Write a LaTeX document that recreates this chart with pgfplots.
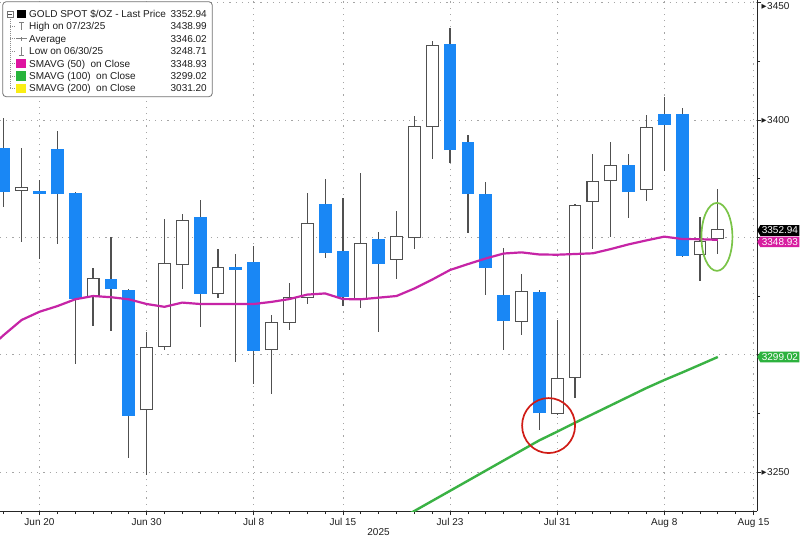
\documentclass[border=0pt]{standalone}
\usepackage{pgfplots}
\pgfplotsset{compat=1.18}
\usepackage{pgfplotstable}
\usetikzlibrary{shapes.symbols}
\usepackage{fontspec}
\setmainfont{Liberation Sans}
\newfontfamily\djv{DejaVu Sans}

\definecolor{bblue}{RGB}{25,135,245}
\definecolor{wick}{RGB}{80,80,80}
\definecolor{ma50}{RGB}{198,36,166}
\definecolor{ma100}{RGB}{58,178,68}
\definecolor{sqmag}{RGB}{222,20,160}
\definecolor{sqgreen}{RGB}{40,180,60}
\definecolor{sqyellow}{RGB}{250,238,20}
\definecolor{tagmag}{RGB}{215,30,160}
\definecolor{taggreen}{RGB}{45,178,62}
\definecolor{gridc}{RGB}{165,165,165}
\definecolor{circred}{RGB}{208,28,22}
\definecolor{circgreen}{RGB}{122,196,72}
\definecolor{txt}{RGB}{30,30,30}

\newcommand{\tri}{\raisebox{0.7pt}{\djv\fontsize{6.5}{6.5}\selectfont ▶}\kern0.5pt}

% down (close < open) candles
\pgfplotstableread{
i o h l c
0 3388.2 3400.9 3362.9 3369.4
2 3369.7 3374.4 3340.6 3368.5
3 3387.8 3395.3 3347.2 3368.3
4 3369.0 3369.5 3295.9 3323.6
6 3332.1 3350.3 3310.2 3327.8
7 3327.6 3328.0 3255.9 3274.0
11 3358.8 3365.9 3311.9 3325.9
13 3337.3 3342.8 3296.8 3336.2
14 3339.6 3346.3 3287.4 3301.7
18 3364.1 3375.0 3341.3 3343.2
19 3344.3 3366.6 3320.7 3324.7
21 3349.3 3352.4 3309.8 3338.6
25 3432.4 3438.99 3381.8 3387.2
26 3390.5 3393.6 3351.7 3368.5
27 3368.3 3373.7 3325.4 3336.8
28 3325.4 3345.3 3302.0 3314.2
30 3326.8 3327.5 3267.9 3275.0
35 3381.0 3385.4 3358.4 3369.3
37 3402.4 3409.7 3378.3 3397.7
38 3402.4 3405.0 3341.8 3342.2
}\dncandles

% up (close >= open) candles
\pgfplotstableread{
i o h l c
1 3370.3 3387.9 3347.9 3370.9
5 3325.0 3337.1 3312.2 3332.1
8 3276.7 3309.5 3248.71 3302.7
9 3303.7 3357.8 3302.0 3338.6
10 3338.6 3359.8 3327.9 3357.1
12 3326.2 3344.9 3324.1 3337.1
15 3302.4 3316.9 3283.1 3313.4
16 3314.1 3330.4 3310.5 3324.0
17 3324.7 3368.8 3321.6 3355.6
20 3324.0 3377.3 3319.8 3347.0
22 3340.9 3361.2 3332.1 3350.0
23 3350.0 3401.7 3345.2 3396.9
24 3397.4 3433.8 3383.4 3431.5
29 3314.5 3334.3 3308.4 3326.6
31 3275.0 3314.8 3274.5 3289.6
32 3290.6 3364.0 3281.7 3363.5
33 3365.6 3385.4 3345.2 3373.7
34 3374.3 3390.5 3350.3 3380.5
36 3370.6 3402.1 3365.6 3396.5
39 3342.8 3358.8 3331.4 3348.1
40 3349.6 3370.6 3342.9 3352.94
}\upcandles

\pgfplotstableread{
i v
-1 3301.5
0 3308.4
1 3314.8
2 3318.3
3 3320.7
4 3323.6
5 3325.0
6 3324.5
7 3323.6
8 3321.6
9 3320.4
10 3322.2
11 3321.6
12 3321.6
13 3321.6
14 3321.6
15 3322.5
16 3323.7
17 3325.6
18 3326.1
19 3323.7
20 3323.6
21 3324.3
22 3325.0
23 3328.2
24 3332.0
25 3336.1
26 3338.6
27 3341.0
28 3343.1
29 3343.6
30 3342.7
31 3342.6
32 3342.9
33 3343.2
34 3345.0
35 3347.0
36 3348.7
37 3350.3
38 3349.3
39 3349.2
40 3348.93
}\smaA

\pgfplotstableread{
i v
22 3229.1
23 3233.4
24 3237.7
25 3242.0
26 3246.3
27 3250.6
28 3254.9
29 3259.2
30 3263.5
31 3267.2
32 3271.0
33 3274.7
34 3278.4
35 3282.1
36 3285.8
37 3289.2
38 3292.4
39 3295.7
40 3299.02
}\smaB

\pgfplotsset{
  wickplot/.style={draw=none, no markers,
    error bars/.cd, y dir=both, y explicit, error mark=none,
    error bar style={wick, line width=1.2pt}},
  bodyplot/.style={draw=none, no markers,
    error bars/.cd, y dir=plus, y explicit, error mark=none,
    error bar style={#1}},
}
\tikzset{
  tagstyle/.style={signal, signal to=west, signal pointer angle=120, fill=#1, text=white,
    font=\fontsize{10}{11}\selectfont, inner xsep=1.5pt, inner ysep=1.8pt, anchor=west},
}

\begin{document}
\begin{tikzpicture}
\fill[white] (0,0) rectangle (800pt,538pt);
\useasboundingbox (0,0) rectangle (800pt,538pt);
\begin{axis}[
  at={(0pt,27pt)}, anchor=south west,
  scale only axis, width=757pt, height=511pt,
  xmin=-0.213, xmax=42.196, ymin=3233.4, ymax=3451.13,
  axis x line*=bottom, axis y line*=right,
  axis line style={-, draw=black!85, line width=0.9pt},
  clip mode=individual,
  xtick={2,8,14,19,25,31,37,42},
  xticklabels={Jun 20,Jun 30,Jul 8,Jul 15,Jul 23,Jul 31,Aug 8,Aug 15},
  minor xtick={0,...,42},
  ytick={3250,3300,3350,3400,3450},
  yticklabels={\tri3250,,,\tri3400,\raisebox{-3pt}[\height][\depth]{\tri3450}},
  minor ytick={3275,3325,3375,3425},
  tick align=outside,
  major tick length=4pt, minor tick length=3pt,
  tick style={black!85, line width=0.8pt},
  grid=major,
  major grid style={gridc, line width=0.9pt, dash pattern=on 1.2pt off 5pt},
  xticklabel style={font=\fontsize{10}{11}\selectfont, text=txt, anchor=base, yshift=-10pt},
  yticklabel style={font=\fontsize{10}{11}\selectfont, text=txt, anchor=west, inner sep=0pt, xshift=0.5pt},
  xlabel={2025},
  xlabel style={at={(axis description cs:0.5,0)}, anchor=base, yshift=-24.5pt, inner sep=0pt, font=\fontsize{10}{11}\selectfont, text=txt},
]
% wicks
\addplot[wickplot] table[x=i, y=o, y error plus expr=\thisrow{h}-\thisrow{o}, y error minus expr=\thisrow{o}-\thisrow{l}] {\dncandles};
\addplot[wickplot] table[x=i, y=o, y error plus expr=\thisrow{h}-\thisrow{o}, y error minus expr=\thisrow{o}-\thisrow{l}] {\upcandles};
% down bodies (blue)
\addplot[bodyplot={bblue, line width=12.8pt}] table[x=i, y=c, y error plus expr=\thisrow{o}-\thisrow{c}] {\dncandles};
% up bodies (white with grey border)
\addplot[bodyplot={wick, line width=12.9pt}] table[x=i, y expr=\thisrow{o}-0.47, y error plus expr=\thisrow{c}-\thisrow{o}+0.94] {\upcandles};
\addplot[bodyplot={white, line width=10.7pt}] table[x=i, y=o, y error plus expr=\thisrow{c}-\thisrow{o}] {\upcandles};
% moving averages
\addplot[ma50, line width=2.2pt, line join=round, no markers] table[x=i, y=v] {\smaA};
\addplot[ma100, line width=2.4pt, line join=round, no markers] table[x=i, y=v] {\smaB};

\draw[circred, line width=1.7pt] (axis cs:30.52,3269.8) ellipse [x radius=26.5pt, y radius=27.5pt];
\draw[circgreen, line width=1.7pt] (axis cs:39.95,3350.2) ellipse [x radius=15.5pt, y radius=34pt];

\node[tagstyle=tagmag, yshift=-2pt] at (axis cs:42.196,3348.93) {3348.93};
\node[tagstyle=black] at (axis cs:42.196,3352.94) {3352.94};
\node[tagstyle=taggreen] at (axis cs:42.196,3299.02) {3299.02};
\end{axis}

\begin{scope}[x=1pt,y=1pt]
\draw[fill=white, draw=black!55, line width=0.8pt, rounded corners=3.5pt] (2.7,536.3) rectangle (212.3,441.3);
\draw[black!45, line width=0.6pt, dash pattern=on 0.8pt off 1.2pt] (10,521) -- (10,449.6);
\foreach \yy in {511.6,499.2,486.8,474.4,462,449.6}
  \draw[black!45, line width=0.6pt, dash pattern=on 0.8pt off 1.2pt] (10,\yy) -- (15.5,\yy);
\draw[black!55, line width=0.5pt, fill=white] (7,521) rectangle (13,527);
\draw[black!70, line width=0.5pt] (8.3,524) -- (11.7,524);
\fill[black] (17.3,519.7) rectangle (26,528.3);
\draw[black!50, line width=0.8pt] (21.7,516) -- (21.7,507.5) (19.2,516) -- (24.2,516);
\draw[black!50, line width=0.8pt] (16,499.2) -- (27,499.2) (21.5,497) -- (21.5,501.4);
\draw[black!50, line width=0.8pt] (21.7,491) -- (21.7,482.8) (19.2,482.8) -- (24.2,482.8);
\fill[sqmag] (16.2,469.8) rectangle (25.8,479.2);
\fill[sqgreen] (16.2,457.4) rectangle (25.8,466.8);
\fill[sqyellow] (16.2,445) rectangle (25.8,454.4);
\begin{scope}[every node/.style={inner sep=0pt, font=\fontsize{10}{11}\selectfont, text=txt}]
\node[anchor=base west] at (29,520.4) {GOLD SPOT \$/OZ - Last Price};
\node[anchor=base west] at (29,508.0) {High on 07/23/25};
\node[anchor=base west] at (29,495.6) {Average};
\node[anchor=base west] at (29,483.2) {Low on 06/30/25};
\node[anchor=base west] at (29,470.8) {SMAVG (50)\ \ on Close};
\node[anchor=base west] at (29,458.4) {SMAVG (100)\ \ on Close};
\node[anchor=base west] at (29,446.0) {SMAVG (200)\ \ on Close};
\node[anchor=base east] at (207,520.4) {3352.94};
\node[anchor=base east] at (207,508.0) {3438.99};
\node[anchor=base east] at (207,495.6) {3346.02};
\node[anchor=base east] at (207,483.2) {3248.71};
\node[anchor=base east] at (207,470.8) {3348.93};
\node[anchor=base east] at (207,458.4) {3299.02};
\node[anchor=base east] at (207,446.0) {3031.20};
\end{scope}
\end{scope}
\end{tikzpicture}
\end{document}
